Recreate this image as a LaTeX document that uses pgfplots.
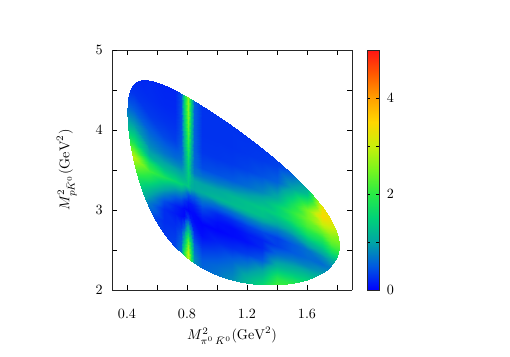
\documentclass[border=0pt]{standalone}
\usepackage{pgfplots}
\pgfplotsset{compat=1.18}
\begin{document}
\begin{tikzpicture}
\path[use as bounding box] (-79.06bp,-47.29bp) rectangle ++(360bp,252bp);
\begin{axis}[
  at={(0,0)},anchor=south west,
  scale only axis,width=169.4bp,height=169.4bp,
  view={0}{90},
  xmin=0.3,xmax=1.9,ymin=2,ymax=5,
  xtick={0.4,0.6,0.8,1.0,1.2,1.4,1.6,1.8},
  xticklabels={0.4,,0.8,,1.2,,1.6,},
  ytick={2,2.5,3,3.5,4,4.5,5},
  yticklabels={2,,3,,4,,5},
  tick align=inside,
  major tick length=3.2pt,
  tick style={black,line width=0.4pt},
  axis line style={line width=0.5pt,black!85},
  every x tick label/.style={yshift=-10pt},
  every y tick label/.style={xshift=-3pt},
  xlabel={$M^2_{\pi^0\,\bar{K}^0}(\mathrm{GeV}^2)$},
  ylabel={$M^2_{p\bar{K}^0}(\mathrm{GeV}^2)$},
  every axis x label/.style={at={(axis description cs:0.5,0)},anchor=north,yshift=-22.5pt},
  every axis y label/.style={at={(axis description cs:0,0.5)},anchor=south,rotate=90,yshift=21.6pt},
  colormap={dalitz}{rgb255=(0,0,255) rgb255=(0,90,225) rgb255=(0,165,165) rgb255=(0,210,120) rgb255=(40,235,70) rgb255=(120,245,30) rgb255=(200,240,10) rgb255=(255,215,0) rgb255=(255,160,0) rgb255=(255,90,0) rgb255=(255,20,20)},
  point meta min=0,point meta max=5,
  colorbar,
  colorbar style={
    scale only axis,width=8.47bp,height=169.4bp,
    at={(parent axis.east)},anchor=west,xshift=2.1bp,
    ytick={0,1,2,3,4,5},yticklabels={0,,2,,4,},
    tick align=inside,major tick length=2.2pt,
    ytick pos=both,yticklabel pos=right,
    axis line style={line width=0.5pt,black!85},
    tick style={black,line width=0.4pt},
    every y tick label/.style={xshift=2pt},
  },
]
\clip plot[smooth cycle,tension=0.5] coordinates {
(axis cs:0.4007,4.229,0) (axis cs:0.41,4.44,0) (axis cs:0.42,4.499,0) (axis cs:0.45,4.586,0) (axis cs:0.5,4.626,0) (axis cs:0.55,4.621,0) (axis cs:0.6,4.597,0) (axis cs:0.65,4.561,0) (axis cs:0.7,4.518,0) (axis cs:0.8,4.418,0) (axis cs:0.9,4.305,0) (axis cs:1.0,4.184,0) (axis cs:1.1,4.055,0) (axis cs:1.2,3.918,0) (axis cs:1.3,3.774,0) (axis cs:1.4,3.62,0) (axis cs:1.5,3.454,0) (axis cs:1.6,3.269,0) (axis cs:1.7,3.051,0) (axis cs:1.75,2.915,0) (axis cs:1.8,2.721,0) (axis cs:1.8169,2.552,0) (axis cs:1.8,2.405,0) (axis cs:1.75,2.276,0) (axis cs:1.7,2.207,0) (axis cs:1.6,2.125,0) (axis cs:1.5,2.082,0) (axis cs:1.4,2.064,0) (axis cs:1.3,2.065,0) (axis cs:1.2,2.084,0) (axis cs:1.1,2.123,0) (axis cs:1.0,2.185,0) (axis cs:0.9,2.274,0) (axis cs:0.8,2.4,0) (axis cs:0.7,2.578,0) (axis cs:0.65,2.695,0) (axis cs:0.6,2.836,0) (axis cs:0.55,3.013,0) (axis cs:0.5,3.24,0) (axis cs:0.45,3.552,0) (axis cs:0.42,3.827,0) (axis cs:0.41,3.954,0)};
\addplot3[surf,shader=interp,mesh/rows=16,mesh/cols=21,mesh/ordering=y varies,point meta=z] coordinates {
(0.38,2.615,1.5)(0.38,2.765,1.5)(0.38,2.915,1.5)(0.38,3.065,1.5)(0.38,3.215,1.6)(0.38,3.315,1.8)(0.38,3.415,2.0)(0.38,3.515,2.3)(0.38,3.615,2.7)(0.38,3.715,3.2)(0.38,3.815,2.6)(0.38,3.915,2.0)(0.38,4.115,1.1)(0.38,4.315,0.6)(0.38,4.515,0.3)(0.38,4.815,0.2)
(0.45,2.56,1.5)(0.45,2.71,1.5)(0.45,2.86,1.5)(0.45,3.01,1.5)(0.45,3.16,1.5)(0.45,3.26,1.6)(0.45,3.36,1.8)(0.45,3.46,2.1)(0.45,3.56,2.5)(0.45,3.66,2.9)(0.45,3.76,2.3)(0.45,3.86,1.7)(0.45,4.06,0.95)(0.45,4.26,0.5)(0.45,4.46,0.28)(0.45,4.76,0.2)
(0.55,2.49,0.4)(0.55,2.64,0.4)(0.55,2.79,0.4)(0.55,2.94,0.45)(0.55,3.09,0.7)(0.55,3.19,1.0)(0.55,3.29,1.35)(0.55,3.39,1.8)(0.55,3.49,2.15)(0.55,3.59,1.8)(0.55,3.69,1.1)(0.55,3.79,0.85)(0.55,3.99,0.55)(0.55,4.19,0.32)(0.55,4.39,0.25)(0.55,4.69,0.22)
(0.65,2.41,0.35)(0.65,2.56,0.35)(0.65,2.71,0.3)(0.65,2.86,0.25)(0.65,3.01,0.25)(0.65,3.11,0.42)(0.65,3.21,0.8)(0.65,3.31,1.25)(0.65,3.41,1.8)(0.65,3.51,1.3)(0.65,3.61,0.95)(0.65,3.71,0.68)(0.65,3.91,0.4)(0.65,4.11,0.28)(0.65,4.31,0.22)(0.65,4.61,0.2)
(0.72,2.36,0.4)(0.72,2.51,0.4)(0.72,2.66,0.33)(0.72,2.81,0.25)(0.72,2.96,0.15)(0.72,3.06,0.2)(0.72,3.16,0.5)(0.72,3.26,0.95)(0.72,3.36,1.6)(0.72,3.46,1.2)(0.72,3.56,0.85)(0.72,3.66,0.6)(0.72,3.86,0.35)(0.72,4.06,0.27)(0.72,4.26,0.22)(0.72,4.56,0.2)
(0.76,2.33,0.6)(0.76,2.48,0.7)(0.76,2.63,0.55)(0.76,2.78,0.35)(0.76,2.93,0.08)(0.76,3.03,0.1)(0.76,3.13,0.4)(0.76,3.23,0.85)(0.76,3.33,1.5)(0.76,3.43,1.15)(0.76,3.53,0.85)(0.76,3.63,0.65)(0.76,3.83,0.5)(0.76,4.03,0.45)(0.76,4.23,0.45)(0.76,4.53,0.45)
(0.78,2.32,1.6)(0.78,2.47,1.9)(0.78,2.62,1.2)(0.78,2.77,0.55)(0.78,2.92,0.05)(0.78,3.02,0.05)(0.78,3.12,0.3)(0.78,3.22,0.8)(0.78,3.32,1.4)(0.78,3.42,1.15)(0.78,3.52,1.0)(0.78,3.62,0.95)(0.78,3.82,1.1)(0.78,4.02,1.25)(0.78,4.22,1.45)(0.78,4.52,1.6)
(0.805,2.3,2.8)(0.805,2.45,3.0)(0.805,2.6,2.4)(0.805,2.75,1.3)(0.805,2.9,0.35)(0.805,3.0,0.02)(0.805,3.1,0.15)(0.805,3.2,0.5)(0.805,3.3,1.4)(0.805,3.4,1.45)(0.805,3.5,1.5)(0.805,3.6,1.6)(0.805,3.8,1.95)(0.805,4.0,2.3)(0.805,4.2,2.55)(0.805,4.5,2.7)
(0.83,2.28,1.8)(0.83,2.43,1.9)(0.83,2.58,1.5)(0.83,2.73,0.8)(0.83,2.88,0.15)(0.83,2.98,0.05)(0.83,3.08,0.15)(0.83,3.18,0.5)(0.83,3.28,1.1)(0.83,3.38,1.2)(0.83,3.48,0.95)(0.83,3.58,0.95)(0.83,3.78,1.1)(0.83,3.98,1.25)(0.83,4.18,1.4)(0.83,4.48,1.5)
(0.85,2.26,0.9)(0.85,2.41,0.8)(0.85,2.56,0.55)(0.85,2.71,0.25)(0.85,2.86,0.05)(0.85,2.96,0.05)(0.85,3.06,0.2)(0.85,3.16,0.5)(0.85,3.26,1.05)(0.85,3.36,1.05)(0.85,3.46,0.7)(0.85,3.56,0.6)(0.85,3.76,0.55)(0.85,3.96,0.55)(0.85,4.16,0.55)(0.85,4.46,0.55)
(0.9,2.22,0.6)(0.9,2.37,0.5)(0.9,2.52,0.3)(0.9,2.67,0.08)(0.9,2.82,0.02)(0.9,2.92,0.2)(0.9,3.02,0.4)(0.9,3.12,0.7)(0.9,3.22,1.1)(0.9,3.32,1.0)(0.9,3.42,0.65)(0.9,3.52,0.42)(0.9,3.72,0.3)(0.9,3.92,0.28)(0.9,4.12,0.28)(0.9,4.42,0.28)
(1.0,2.15,0.7)(1.0,2.3,0.6)(1.0,2.45,0.4)(1.0,2.6,0.2)(1.0,2.75,0.02)(1.0,2.85,0.08)(1.0,2.95,0.22)(1.0,3.05,0.6)(1.0,3.15,1.2)(1.0,3.25,1.05)(1.0,3.35,0.7)(1.0,3.45,0.45)(1.0,3.65,0.3)(1.0,3.85,0.28)(1.0,4.05,0.28)(1.0,4.35,0.28)
(1.1,2.07,0.9)(1.1,2.22,0.75)(1.1,2.37,0.55)(1.1,2.52,0.25)(1.1,2.67,0.06)(1.1,2.77,0.06)(1.1,2.87,0.25)(1.1,2.97,0.65)(1.1,3.07,1.25)(1.1,3.17,1.2)(1.1,3.27,0.8)(1.1,3.37,0.5)(1.1,3.57,0.32)(1.1,3.77,0.28)(1.1,3.97,0.28)(1.1,4.27,0.28)
(1.2,2.0,1.3)(1.2,2.15,1.15)(1.2,2.3,0.75)(1.2,2.45,0.35)(1.2,2.6,0.1)(1.2,2.7,0.15)(1.2,2.8,0.35)(1.2,2.9,0.75)(1.2,3.0,1.3)(1.2,3.1,1.3)(1.2,3.2,0.95)(1.2,3.3,0.62)(1.2,3.5,0.37)(1.2,3.7,0.3)(1.2,3.9,0.28)(1.2,4.2,0.28)
(1.3,1.92,1.7)(1.3,2.07,1.55)(1.3,2.22,1.1)(1.3,2.37,0.5)(1.3,2.52,0.22)(1.3,2.62,0.2)(1.3,2.72,0.4)(1.3,2.82,0.8)(1.3,2.92,1.3)(1.3,3.02,1.4)(1.3,3.12,1.15)(1.3,3.22,0.8)(1.3,3.42,0.45)(1.3,3.62,0.32)(1.3,3.82,0.28)(1.3,4.12,0.28)
(1.4,1.85,2.5)(1.4,2.0,2.35)(1.4,2.15,1.9)(1.4,2.3,1.15)(1.4,2.45,0.6)(1.4,2.55,0.35)(1.4,2.65,0.35)(1.4,2.75,0.7)(1.4,2.85,1.15)(1.4,2.95,1.5)(1.4,3.05,1.5)(1.4,3.15,1.1)(1.4,3.35,0.55)(1.4,3.55,0.36)(1.4,3.75,0.3)(1.4,4.05,0.28)
(1.5,1.77,2.5)(1.5,1.92,2.4)(1.5,2.07,2.0)(1.5,2.22,1.3)(1.5,2.37,0.75)(1.5,2.47,0.5)(1.5,2.57,0.5)(1.5,2.67,0.8)(1.5,2.77,1.3)(1.5,2.87,1.8)(1.5,2.97,2.0)(1.5,3.07,1.75)(1.5,3.27,1.0)(1.5,3.47,0.5)(1.5,3.67,0.32)(1.5,3.97,0.28)
(1.6,1.7,2.6)(1.6,1.85,2.5)(1.6,2.0,2.0)(1.6,2.15,1.4)(1.6,2.3,0.8)(1.6,2.4,0.6)(1.6,2.5,0.65)(1.6,2.6,1.15)(1.6,2.7,1.75)(1.6,2.8,2.2)(1.6,2.9,2.45)(1.6,3.0,2.5)(1.6,3.2,1.3)(1.6,3.4,0.7)(1.6,3.6,0.4)(1.6,3.9,0.3)
(1.7,1.62,2.5)(1.7,1.77,2.4)(1.7,1.92,2.0)(1.7,2.07,1.4)(1.7,2.22,0.9)(1.7,2.32,0.62)(1.7,2.42,0.85)(1.7,2.52,1.35)(1.7,2.62,1.85)(1.7,2.72,2.4)(1.7,2.82,3.0)(1.7,2.92,3.45)(1.7,3.12,3.2)(1.7,3.32,2.0)(1.7,3.52,1.5)(1.7,3.82,1.0)
(1.76,1.58,2.5)(1.76,1.73,2.4)(1.76,1.88,2.0)(1.76,2.03,1.5)(1.76,2.18,1.0)(1.76,2.28,0.75)(1.76,2.38,1.05)(1.76,2.48,1.7)(1.76,2.58,2.25)(1.76,2.68,2.6)(1.76,2.78,3.0)(1.76,2.88,3.3)(1.76,3.08,2.9)(1.76,3.28,2.0)(1.76,3.48,1.5)(1.76,3.78,1.0)
(1.84,1.52,2.5)(1.84,1.67,2.4)(1.84,1.82,2.0)(1.84,1.97,1.5)(1.84,2.12,1.1)(1.84,2.22,0.9)(1.84,2.32,1.2)(1.84,2.42,1.9)(1.84,2.52,2.3)(1.84,2.62,2.5)(1.84,2.72,2.8)(1.84,2.82,3.0)(1.84,3.02,2.8)(1.84,3.22,2.0)(1.84,3.42,1.5)(1.84,3.72,1.0)
};
\end{axis}
\end{tikzpicture}
\end{document}
